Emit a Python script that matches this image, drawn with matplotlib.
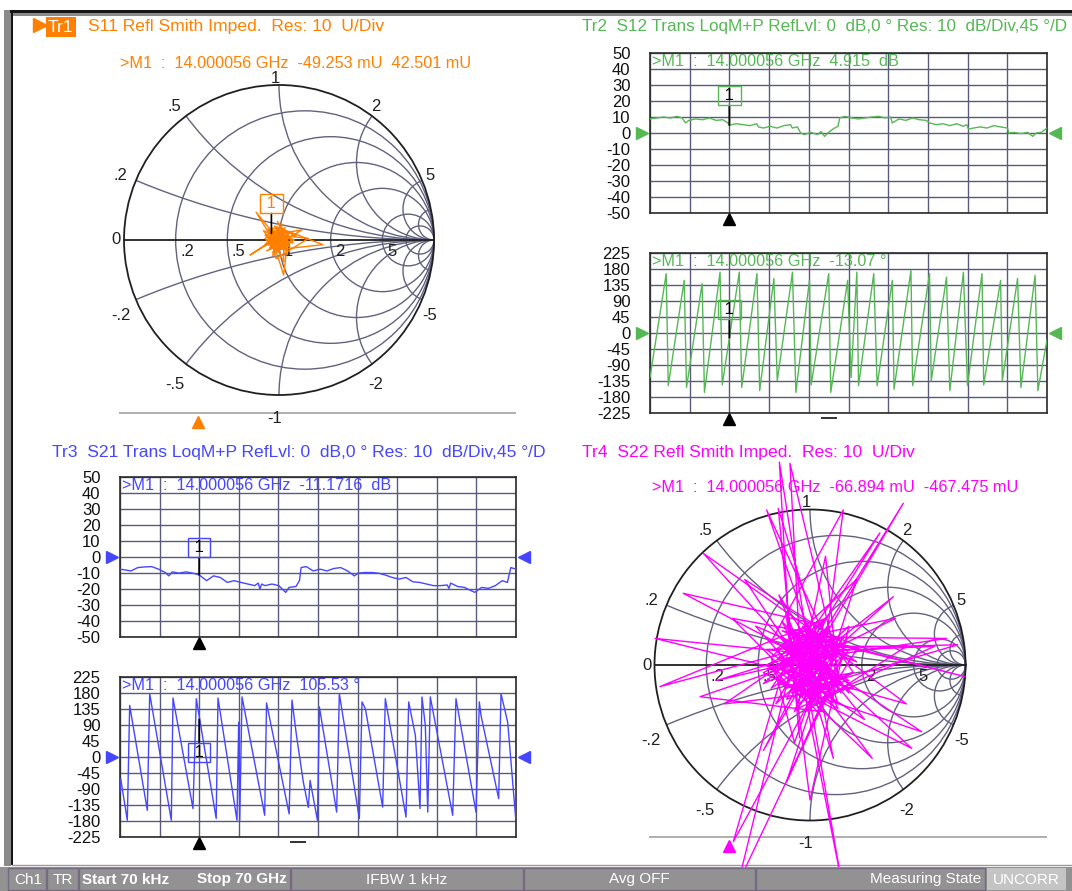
import numpy as np
import matplotlib
matplotlib.use('Agg')
import matplotlib.pyplot as plt
from matplotlib.patches import Circle, Rectangle

W, H = 1072, 891
plt.rcParams['font.family'] = ['Liberation Sans', 'DejaVu Sans']
plt.rcParams['font.size'] = 12

# ---------------- data ----------------
marker_ghz = 14.000056

# Tr2  S12 magnitude (dB)
s12_mag_f = [0.0, 1.19, 2.39, 3.58, 4.78, 5.67, 6.27, 6.87, 8.06, 9.26, 10.45, 11.65, 12.84, 13.74,
             14.0, 15.23, 16.43, 17.62, 18.81, 19.11, 20.01, 21.20, 22.40, 23.59, 24.79, 25.09,
             25.98, 26.58, 27.18, 28.37, 29.57, 30.16, 30.76, 31.36, 31.96, 32.55, 33.15, 33.45,
             34.35, 35.54, 36.73, 37.93, 39.12, 40.32, 41.51, 42.41, 42.71, 43.90, 45.10, 46.29,
             47.49, 48.68, 49.28, 50.47, 51.67, 52.86, 54.06, 55.25, 55.85, 56.15, 57.04, 58.24,
             59.43, 60.63, 61.82, 63.02, 63.31, 64.21, 65.40, 66.60, 67.49, 68.09, 68.99, 70.0]
s12_mag_db = [8.8, 9.4, 10.0, 9.4, 10.4, 9.4, 6.3, 7.9, 8.8, 8.3, 9.4, 7.9, 8.3, 6.3,
              4.9, 5.8, 5.2, 4.6, 5.8, 3.8, 3.1, 4.2, 3.1, 4.6, 5.2, 3.1,
              3.8, 0.0, -1.0, 0.4, -1.0, 1.0, -2.1, 0.0, 1.7, 3.1, 4.2, 9.4,
              10.4, 9.4, 8.8, 9.4, 10.0, 10.4, 9.4, 10.0, 6.3, 8.8, 7.9, 9.4,
              8.3, 7.9, 6.3, 5.2, 5.8, 4.6, 5.8, 4.2, 5.2, 2.5, 3.1, 3.8,
              3.1, 4.6, 3.8, 3.1, 0.0, 0.4, -0.4, 0.4, -2.1, 0.0, 0.4, 3.1]

# Tr2  S12 phase (deg)
s12_ph_f = [0.0, 2.86, 3.22, 6.03, 6.44, 9.19, 9.6, 12.35, 12.74, 15.74, 16.17, 18.86, 19.34,
            21.84, 22.44, 25.12, 25.72, 28.11, 28.41, 31.51, 31.87, 34.85, 35.45, 36.47, 36.77,
            39.45, 40.05, 42.73, 43.03, 46.01, 46.31, 49.29, 49.59, 52.28, 52.87, 55.26, 55.98,
            58.54, 58.84, 61.82, 62.12, 64.81, 65.40, 67.90, 68.39, 70.0]
s12_ph_deg = [-125, 167, -148, 148, -153, 139, -167, 171, -146, 171, -153, 167, -162,
              153, -134, 171, -167, 148, -146, 167, -167, 148, -125, 171, -148,
              167, -148, 148, -158, 176, -148, 167, -134, 157, -162, 171, -148,
              167, -146, 148, -134, 153, -153, 162, -162, -20]

# Tr3  S21 magnitude (dB)
s21_mag_f = [0.0, 1.94, 3.16, 4.37, 5.59, 6.81, 8.02, 8.63, 9.24, 10.45, 11.67, 12.88, 14.0,
             15.31, 16.53, 17.74, 18.96, 20.17, 21.39, 22.60, 23.82, 24.43, 24.73, 25.03, 25.64,
             26.86, 28.07, 29.29, 29.89, 31.11, 31.72, 32.02, 32.93, 34.15, 35.36, 36.58, 37.79,
             39.01, 40.22, 41.44, 42.05, 43.26, 44.48, 45.69, 46.91, 48.12, 49.34, 50.55, 51.77,
             52.98, 54.20, 55.41, 56.63, 57.84, 58.15, 58.45, 59.66, 60.88, 62.70, 63.92, 65.13,
             66.35, 67.56, 68.48, 69.08, 70.0]
s21_mag_db = [-7.6, -8.7, -6.6, -6.2, -6.0, -7.6, -9.7, -11.8, -9.3, -10.1, -9.3, -10.1, -11.2,
              -14.8, -11.8, -12.8, -15.9, -14.8, -15.9, -16.9, -17.9, -16.3, -20.0, -16.9, -17.9,
              -16.9, -17.9, -22.1, -19.0, -18.4, -14.8, -6.6, -6.0, -8.7, -7.6, -8.7, -7.2,
              -6.6, -8.7, -11.8, -10.1, -9.7, -9.7, -10.1, -11.3, -12.8, -13.8, -12.8, -15.5,
              -15.9, -16.9, -17.9, -17.9, -17.5, -19.6, -16.3, -18.4, -19.0, -22.1, -19.0, -19.6,
              -17.9, -14.8, -15.9, -6.6, -7.6]

# Tr3  S21 phase (deg)
s21_ph_f = [0.0, 0.12, 1.29, 1.71, 4.83, 5.25, 9.07, 9.37, 12.90, 13.49, 17.00, 17.32, 20.68,
            20.98, 21.16, 21.57, 25.58, 25.9, 29.9, 30.4, 31.2, 32.4, 33.3, 33.6, 34.9,
            35.24, 38.30, 38.77, 42.31, 42.78, 43.37, 46.43, 46.90, 50.56, 51.03, 52.21, 53.03,
            53.38, 53.97, 54.40, 54.85, 58.81, 59.39, 62.93, 63.52, 63.81, 66.94, 67.35, 68.53,
            69.95, 70.0]
s21_ph_deg = [-98, -61, -178, 145, -150, 178, -178, 166, -145, 164, -173, 166, -178,
              98, -178, 169, -164, 152, -160, 160, 60, -70, -142, -66, -178,
              141, -155, 178, -173, 155, 136, -141, 164, -169, 155, 61, -145,
              169, 89, -155, 169, -164, 164, -155, 155, 117, -117, 178, 98,
              -173, -80]

# Tr1  S11 reflection (real, imag)
s11_re = [-0.05, -0.02, -0.09, 0.02, -0.06, 0.04, -0.03, 0.284, 0.01, -0.07,
          0.05, -0.187, -0.04, 0.00, -0.10, 0.07, -0.03, 0.03, -0.148, -0.05,
          0.02, -0.08, 0.148, -0.01, -0.04, 0.06, 0.03, -0.06, 0.10, -0.02,
          -0.09, 0.04, -0.05, 0.01, 0.19, -0.02, -0.06, 0.07, -0.09, 0.02,
          -0.03, 0.03, 0.03, -0.07, 0.00, 0.06, -0.04, 0.02, -0.01, 0.09,
          -0.06, 0.01, -0.03, 0.05, -0.08, 0.00, 0.04, -0.05, 0.11, -0.02,
          0.02, -0.04, 0.05, -0.01, 0.03, -0.06, 0.01, 0.04, -0.03, 0.06,
          -0.05, 0.00, 0.03, -0.02, 0.05, -0.04, 0.02, -0.07, 0.04, 0.01,
          0.06, -0.03, -0.01, 0.04, -0.06, 0.02, 0.00, 0.05, -0.04, -0.049]
s11_im = [0.04, -0.02, 0.03, 0.07, -0.05, 0.01, 0.09, -0.03, -0.06, 0.02,
          0.05, -0.097, 0.00, -0.08, 0.06, -0.02, 0.03, -0.04, 0.18, 0.02,
          -0.03, -0.07, 0.065, 0.04, -0.10, 0.03, -0.226, 0.06, 0.00, -0.05,
          0.01, 0.08, -0.02, 0.03, 0.01, -0.12, 0.05, -0.04, -0.03, 0.10,
          -0.06, 0.02, -0.14, 0.07, -0.01, 0.04, -0.08, 0.05, 0.12, -0.02,
          0.03, -0.04, 0.06, -0.07, 0.00, 0.02, -0.05, 0.08, 0.03, 0.00,
          -0.05, 0.03, 0.02, -0.06, 0.05, 0.00, -0.04, 0.06, -0.02, -0.03,
          0.05, -0.07, 0.01, 0.04, -0.03, -0.01, 0.07, 0.02, -0.05, 0.03,
          -0.02, -0.04, 0.05, 0.00, 0.03, -0.06, 0.02, -0.03, 0.06, 0.0425]

# Tr4  S22 reflection (real, imag)
s22_re = [0.05, -0.12, -0.197, 0.02, 0.15, -0.129, -0.05, 0.20, -0.997, 0.10,
          -0.08, 0.879, -0.15, 0.08, -0.279, 0.12, -0.20, 0.718, 0.00, -0.25,
          0.214, 0.05, -0.10, -0.461, 0.18, -0.03, -0.815, 0.25, -0.12, 0.60,
          0.05, -0.30, 0.654, -0.06, 0.10, -0.965, 0.22, -0.02, 0.204, -0.08,
          0.15, -0.686, 0.30, -0.18, 0.997, 0.02, -0.22, 0.536, -0.05, 0.12,
          -0.707, 0.08, -0.15, 0.00, 0.25, -0.10, -0.204, 0.18, -0.28, 0.95,
          0.00, -0.12, -0.493, 0.15, -0.05, 0.62, -0.20, 0.06, -0.42, 0.20,
          -0.08, 0.80, -0.15, 0.10, -0.55, 0.28, -0.02, 0.45, -0.25, 0.05,
          -0.30, 0.12, -0.10, 0.40, -0.18, 0.08, -0.15, 0.22, -0.05, 0.55,
          -0.22, 0.02, -0.50, 0.15, -0.08, 0.10, 0.18, -0.12, -0.60, 0.25,
          -0.03, 0.62, -0.18, 0.05, 0.15, -0.10, 0.20, -0.20, 0.00, 0.12,
          -0.10, -0.25, 0.30, 0.08, -0.15, 0.35, -0.05, 0.18, -0.35, 0.05,
          0.10, -0.22, 0.05, 0.28, -0.15, 0.02, -0.28, 0.18, -0.05, 0.22,
          -0.10, 0.12, -0.30, 0.08, 0.25, -0.18, 0.00, 0.15, -0.25, 0.05,
          0.30, -0.12, -0.02, 0.20, -0.20, 0.10, -0.08, 0.27, -0.16, 0.04,
          -0.12, -0.067]
s22_im = [0.10, -0.05, 1.305, -0.08, 0.12, 1.297, -0.20, 0.05, 0.171, -0.10,
          0.18, 0.171, 0.02, 0.22, 0.997, -0.15, -0.12, -0.429, 0.05, 0.15,
          0.997, -0.25, 0.08, -1.40, -0.05, 0.28, 0.461, -0.10, -0.18, 1.04,
          0.15, -0.05, -0.536, 0.12, 0.30, -0.139, 0.18, -0.12, -1.40, 0.05,
          -0.20, 0.718, 0.02, 0.22, -0.075, 0.18, -0.25, 0.439, -0.02, 0.08,
          -0.204, -0.30, 0.30, -0.868, 0.25, -0.08, 1.007, -0.25, 0.10, 0.13,
          -0.15, 0.15, -1.136, 0.05, 0.25, -0.25, -0.02, -0.18, 0.55, 0.15,
          -0.28, 0.12, 0.08, 0.20, -0.25, -0.15, 0.10, 0.85, -0.15, 0.05,
          -0.55, 0.25, -0.12, -0.60, 0.18, -0.05, -0.75, 0.08, 0.18, 0.30,
          -0.08, -0.22, 0.30, 0.18, -0.15, 0.70, -0.10, 0.05, -0.10, 0.10,
          -0.30, 0.12, 0.12, -0.10, -0.60, 0.22, -0.18, 0.45, -0.05, 0.12,
          -0.50, 0.05, 0.55, -0.15, -0.02, -0.35, 0.15, 0.02, 0.25, -0.20,
          -0.25, 0.10, 0.28, -0.05, -0.22, 0.15, 0.00, -0.28, 0.20, 0.12,
          -0.30, 0.25, -0.12, 0.05, -0.18, 0.28, -0.10, 0.18, -0.02, -0.30,
          0.10, 0.22, -0.20, -0.12, 0.05, 0.30, -0.25, -0.05, -0.15, 0.20,
          0.10, -0.467]

smith_r = [0.2, 0.5, 1, 2, 5, 10]
smith_x = [0.2, 0.5, 1, 2, 5, 10]
smith_r_lab = ['.2', '.5', '1', '2', '5']
smith_x_val = [0.2, 0.5, 1, 2, 5, -0.2, -0.5, -1, -2, -5]
smith_x_lab = ['.2', '.5', '1', '2', '5', '-.2', '-.5', '-1', '-2', '-5']

mag_ticks = [50, 40, 30, 20, 10, 0, -10, -20, -30, -40, -50]
ph_ticks = [225, 180, 135, 90, 45, 0, -45, -90, -135, -180, -225]

status_labels = ['Ch1', 'TR', 'Start 70 kHz', 'Stop 70 GHz', 'IFBW 1 kHz', 'Avg OFF',
                 'Measuring State', 'UNCORR']

ORANGE = '#ff8000'
GREEN = '#55b855'
BLUE = '#4646ff'
MAGENTA = '#ff00ff'
GRID = '#5a5a7c'
SGRID = '#62627f'
FS = 12        # tick / chart labels
FS_T = 12.6    # trace titles
FS_M = 11.7    # marker readouts

fig = plt.figure(figsize=(W / 100, H / 100), dpi=100)
fig.patch.set_facecolor('white')


def px_rect(x0, y0, x1, y1):
    return [x0 / W, 1 - y1 / H, (x1 - x0) / W, (y1 - y0) / H]


def ftext(x, y, s, **kw):
    kw.setdefault('va', 'center')
    return fig.text(x / W, 1 - y / H, s, **kw)


# frame of the instrument window
bg = fig.add_axes([0, 0, 1, 1])
bg.set_xlim(0, W)
bg.set_ylim(H, 0)
bg.axis('off')
bg.add_patch(Rectangle((4, 10), 6.5, 856, color='#8a8a8a', lw=0))
bg.add_patch(Rectangle((10.5, 10), 2, 855, color='#151515', lw=0))
bg.add_patch(Rectangle((10, 9.5), W - 10, 3.5, color='#151515', lw=0))
bg.add_patch(Rectangle((12.5, 13), W - 12.5, 2.5, color='#8a8a8a', lw=0))
bg.plot([12, W], [864.5, 864.5], color='#9a9a9a', lw=1)
bg.plot([40], [25], marker='>', color=ORANGE, ms=10)


def rect_panel(box, f, v, color, ylim, yticks, mval, mtext, off, dash=False):
    ax = fig.add_axes(px_rect(*box))
    ax.plot(f, v, color=color, lw=1, zorder=3)
    ax.set_xlim(0, 70)
    ax.set_ylim(*ylim)
    ax.set_xticks(np.linspace(0, 70, 11))
    ax.set_yticks(yticks)
    ax.set_xticklabels([])
    ax.set_yticklabels([str(t) for t in yticks])
    ax.grid(True, color=GRID, lw=1)
    ax.tick_params(length=0, pad=14, labelsize=FS, labelcolor='#101010')
    for s in ax.spines.values():
        s.set_color('#2a2a2a')
        s.set_linewidth(1.2)
    ax.text(0.006, 0.944, mtext, transform=ax.transAxes, color=color, fontsize=FS_M, va='center')
    yt = ax.get_yaxis_transform()
    ax.plot([-0.021], [0], marker='>', color=color, ms=9, transform=yt, clip_on=False)
    ax.plot([1.021], [0], marker='<', color=color, ms=9, transform=yt, clip_on=False)
    xt = ax.get_xaxis_transform()
    ax.plot([marker_ghz], [-0.038], marker='^', color='black', ms=9, transform=xt, clip_on=False)
    if dash:
        ax.plot([31.5], [-0.03], marker='_', color='#202020', ms=12, mew=1.3,
                transform=xt, clip_on=False)
    ax.annotate(' 1 ', xy=(marker_ghz, mval), xytext=(0, off), textcoords='offset points',
                ha='center', va='center', fontsize=FS, color='black',
                bbox=dict(boxstyle='square,pad=0.12', fc='none', ec=color, lw=1),
                arrowprops=dict(arrowstyle='-', color='black', lw=1.3, shrinkA=0, shrinkB=0),
                zorder=5)
    return ax


def smith_panel(cx, cy, R, re, im, color, mark_idx=None, mark_col='black'):
    ext = 1.3
    ax = fig.add_axes(px_rect(cx - ext * R, cy - ext * R, cx + ext * R, cy + ext * R))
    ax.set_xlim(-ext, ext)
    ax.set_ylim(-ext, ext)
    ax.axis('off')
    ax.patch.set_alpha(0)
    clip = Circle((0, 0), 1, transform=ax.transData)
    for r in smith_r:
        ax.add_patch(Circle((r / (1 + r), 0), 1 / (1 + r), fill=False, ec=SGRID, lw=1))
    for xv in smith_x:
        for sgn in (1, -1):
            c = Circle((1, sgn / xv), 1 / xv, fill=False, ec=SGRID, lw=1)
            ax.add_patch(c)
            c.set_clip_path(clip)
    ax.add_patch(Circle((0, 0), 1, fill=False, ec='#202020', lw=1.3))
    ax.plot([-1, 1], [0, 0], color='#202020', lw=1.3)
    for r, lab in zip(smith_r[:5], smith_r_lab):
        ax.text((r - 1) / (r + 1) + 0.03, -0.075, lab, ha='left', va='center',
                fontsize=FS, color='#202020')
    ax.text(-1.05, 0.0, '0', ha='center', va='center', fontsize=FS, color='#202020')
    for xv, lab in zip(smith_x_val, smith_x_lab):
        th = 2 * np.arctan(1 / xv)
        dy = -0.07 if xv < 0 else 0.0
        k = 1.045 if xv == 1 else 1.08
        ax.text(k * np.cos(th) - 0.025, k * np.sin(th) + dy, lab, ha='center',
                va='center', fontsize=FS, color='#202020')
    ax.plot(re, im, color=color, lw=1, clip_on=False, zorder=4)
    if mark_idx is not None:
        ax.annotate(' 1 ', xy=(re[mark_idx], im[mark_idx]), xytext=(0, 21.5),
                    textcoords='offset points', ha='center', va='center', fontsize=FS,
                    color=mark_col,
                    bbox=dict(boxstyle='square,pad=0.12', fc='none', ec=color, lw=1),
                    arrowprops=dict(arrowstyle='-', color='black', lw=1.2, shrinkA=0, shrinkB=0),
                    zorder=6)
    return ax


def freq_line(x0, x1, y, color):
    ax = fig.add_axes(px_rect(x0, y - 8, x1, y + 17))
    ax.set_xlim(0, 70)
    ax.set_ylim(-17, 8)
    ax.axis('off')
    ax.patch.set_alpha(0)
    ax.plot([0, 70], [0, 0], color='#a8a8a8', lw=1.3)
    ax.plot([marker_ghz], [-9], marker='^', color=color, ms=9, clip_on=False)


# ---------------- Tr1 ----------------
freq_line(119, 516, 413, ORANGE)
smith_panel(279, 240, 155, s11_re, s11_im, ORANGE, mark_idx=len(s11_re) - 1, mark_col=ORANGE)
ftext(48, 27, 'Tr1', color='white', fontsize=FS_T,
      bbox=dict(boxstyle='square,pad=0.12', fc=ORANGE, ec='none'))
ftext(88, 27, 'S11 Refl Smith Imped.  Res: 10  U/Div', color=ORANGE, fontsize=FS_T)
ftext(120, 63, '>M1  :  14.000056 GHz  -49.253 mU  42.501 mU', color=ORANGE, fontsize=FS_M)

# ---------------- Tr2 ----------------
ftext(582, 27, 'Tr2  S12 Trans LoqM+P RefLvl: 0  dB,0 \u00b0 Res: 10  dB/Div,45 \u00b0/D',
      color=GREEN, fontsize=12.3)
rect_panel((650, 53, 1047, 213), s12_mag_f, s12_mag_db, GREEN, (-50, 50), mag_ticks, 4.915,
           '>M1  :  14.000056 GHz  4.915  dB', 21)
rect_panel((650, 253, 1047, 413), s12_ph_f, s12_ph_deg, GREEN, (-225, 225), ph_ticks, -13.07,
           '>M1  :  14.000056 GHz  -13.07 \u00b0', 20, dash=True)

# ---------------- Tr3 ----------------
ftext(52, 452, 'Tr3  S21 Trans LoqM+P RefLvl: 0  dB,0 \u00b0 Res: 10  dB/Div,45 \u00b0/D',
      color=BLUE, fontsize=FS_T)
rect_panel((120, 477, 516, 637), s21_mag_f, s21_mag_db, BLUE, (-50, 50), mag_ticks, -11.1716,
           '>M1  :  14.000056 GHz  -11.1716  dB', 19.5)
rect_panel((120, 677, 516, 837), s21_ph_f, s21_ph_deg, BLUE, (-225, 225), ph_ticks, 105.53,
           '>M1  :  14.000056 GHz  105.53 \u00b0', -24, dash=True)

# ---------------- Tr4 ----------------
freq_line(649, 1047, 837, MAGENTA)
smith_panel(810, 665, 155.5, s22_re, s22_im, MAGENTA)
ftext(582, 452, 'Tr4  S22 Refl Smith Imped.  Res: 10  U/Div', color=MAGENTA, fontsize=FS_T)
ftext(652, 488, '>M1  :  14.000056 GHz  -66.894 mU  -467.475 mU', color=MAGENTA, fontsize=FS_M)

# ---------------- status bar ----------------
sb = fig.add_axes(px_rect(0, 867, W, H), zorder=10)
sb.set_xlim(0, W)
sb.set_ylim(H - 867, 0)
sb.axis('off')
sb.add_patch(Rectangle((0, 0), W, H - 867, color='#929292', lw=0))
cells = [(8, 46), (47, 78), (79, 290), (291, 523), (524, 755), (756, 985)]
for a, b in cells:
    sb.add_patch(Rectangle((a, 1), b - a, H - 869, fill=False, ec='#766a82', lw=1))
sb.add_patch(Rectangle((987, 1), 79, H - 869, color='#c4c4c4', lw=0))
sfont = dict(family=['Liberation Sans Narrow', 'Liberation Sans', 'DejaVu Sans'],
             fontsize=11, color='white', va='center')
ym = (H - 867) / 2 + 0.5
sb.text(14, ym, status_labels[0], ha='left', **sfont)
sb.text(53, ym, status_labels[1], ha='left', **sfont)
sb.text(82, ym, status_labels[2], ha='left', fontweight='bold', **sfont)
sb.text(197, ym, status_labels[3], ha='left', fontweight='bold', **sfont)
sb.text(407, ym, status_labels[4], ha='center', **sfont)
sb.text(639, ym, status_labels[5], ha='center', **sfont)
sb.text(981, ym, status_labels[6], ha='right', **sfont)
sb.text(1026, ym, status_labels[7], ha='center', **sfont)

fig.savefig('out.png', dpi=100, facecolor='white')
